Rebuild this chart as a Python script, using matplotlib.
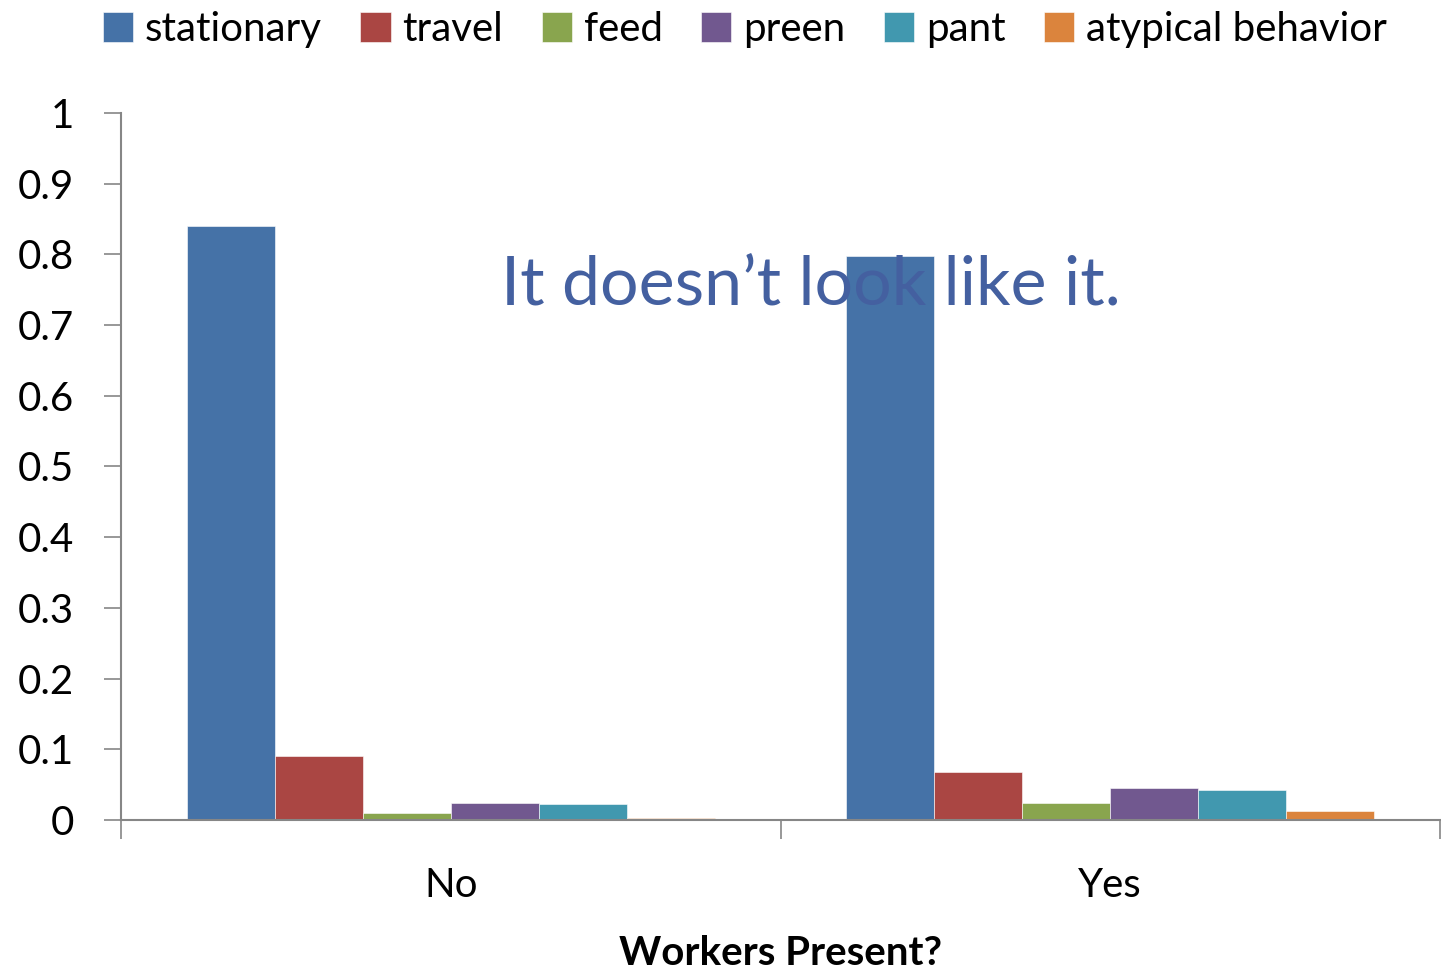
import matplotlib.pyplot as plt
import numpy as np

groups = ['No', 'Yes']
behaviors = ['stationary', 'travel', 'feed', 'preen', 'pant', 'atypical behavior']
values = {
    'stationary': [0.840, 0.798],
    'travel': [0.091, 0.068],
    'feed': [0.010, 0.024],
    'preen': [0.024, 0.045],
    'pant': [0.022, 0.042],
    'atypical behavior': [0.003, 0.012],
}
colors = ['#4572A7', '#AA4643', '#89A54E', '#71588F', '#4198AF', '#DB843D']
yticks = [0, 0.1, 0.2, 0.3, 0.4, 0.5, 0.6, 0.7, 0.8, 0.9, 1]
ytick_labels = ['0', '0.1', '0.2', '0.3', '0.4', '0.5', '0.6', '0.7', '0.8', '0.9', '1']

plt.rcParams['font.family'] = ['Lato', 'DejaVu Sans']

fig = plt.figure(figsize=(14.41, 9.69), dpi=100)
ax = fig.add_axes([0.084, 0.1538, 0.9153, 0.7296])

x = np.arange(len(groups))
width = 0.8 / len(behaviors)
handles = []
for i, (name, col) in enumerate(zip(behaviors, colors)):
    offs = x - 0.4 + width * (i + 0.5)
    b = ax.bar(offs, values[name], width, color=col, edgecolor='white',
               linewidth=0.4, label=name, zorder=2)
    handles.append(b)

ax.set_xlim(-0.5, 1.5)
ax.set_ylim(0, 1)
ax.set_yticks(yticks)
ax.set_yticklabels(ytick_labels, fontsize=29)
ax.set_xticks([-0.5, 0.5, 1.5], minor=False)
ax.set_xticklabels(['', '', ''])
ax.set_xticks(x, minor=True)
ax.set_xticklabels(groups, minor=True, fontsize=29)
ax.tick_params(axis='x', which='minor', length=0, pad=34)
ax.tick_params(axis='x', which='major', length=14, color='#868686', width=1.2)
ax.tick_params(axis='y', length=12, color='#868686', width=1.2, pad=22)

for s in ['top', 'right']:
    ax.spines[s].set_visible(False)
for s in ['left', 'bottom']:
    ax.spines[s].set_color('#868686')
    ax.spines[s].set_linewidth(1.5)

ax.set_xlabel('Workers Present?', fontsize=29, fontweight='bold', labelpad=22)

fig.legend(handles=handles, labels=behaviors, loc='upper center',
           bbox_to_anchor=(0.517, 1.026), ncol=6, frameon=False, fontsize=29,
           handlelength=0.75, handleheight=0.75, handletextpad=0.3,
           columnspacing=0.95)

ax.text(0.523, 0.756, 'It doesn\u2019t look like it.', transform=ax.transAxes,
        fontsize=49, color='#4460A0', ha='center', va='center', zorder=3)

fig.savefig('out.png', dpi=100)
